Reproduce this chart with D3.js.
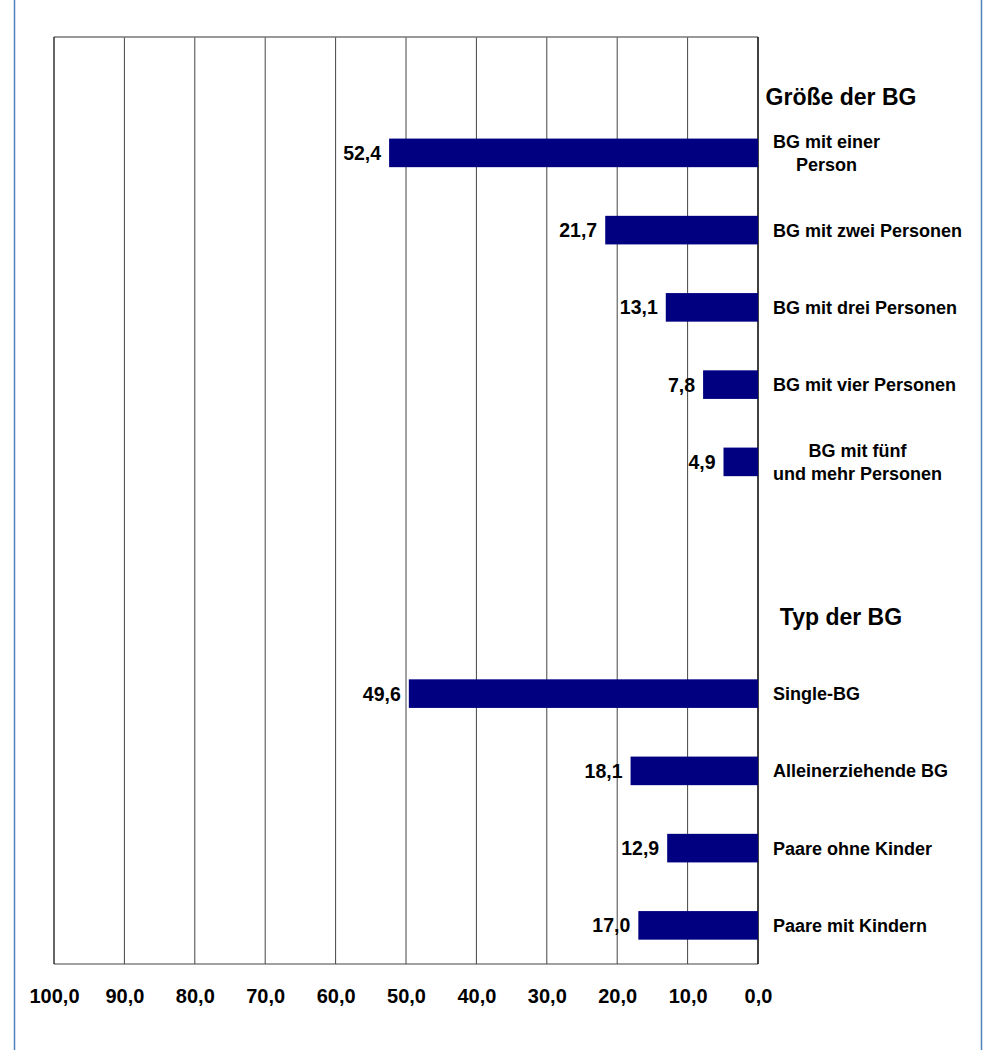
<!DOCTYPE html>
<html>
<head>
<meta charset="utf-8">
<script src="https://cdn.jsdelivr.net/npm/d3@7"></script>
<style>
  body { margin: 0; background: #fff; }
  svg { display: block; font-family: "Liberation Sans", Arial, sans-serif; font-weight: bold; }
</style>
</head>
<body>
<svg id="chart" width="984" height="1050"></svg>
<script>
// section headers
const groupTitles = ["Größe der BG", "Typ der BG"];

// Größe der BG (line breaks as in the original labels)
const sizeLabels = ["BG mit einer\nPerson", "BG mit zwei Personen", "BG mit drei Personen", "BG mit vier Personen", "BG mit fünf\nund mehr Personen"];
const sizeValues = [52.4, 21.7, 13.1, 7.8, 4.9];

// Typ der BG
const typeLabels = ["Single-BG", "Alleinerziehende BG", "Paare ohne Kinder", "Paare mit Kindern"];
const typeValues = [49.6, 18.1, 12.9, 17.0];

const tickValues = [100, 90, 80, 70, 60, 50, 40, 30, 20, 10, 0];

const width = 984, height = 1050;
const plot = { left: 54, right: 758, top: 37, bottom: 964 };

// build the row list: header, rows, spacer, header, rows
const rows = [];
rows.push({ key: "h0", header: groupTitles[0] });
sizeLabels.forEach((l, i) => rows.push({ key: "s" + i, label: l, value: sizeValues[i] }));
rows.push({ key: "gap" });
rows.push({ key: "h1", header: groupTitles[1] });
typeLabels.forEach((l, i) => rows.push({ key: "t" + i, label: l, value: typeValues[i] }));

const de = d3.formatLocale({ decimal: ",", thousands: ".", grouping: [3], currency: ["", " €"] });
const fmt = de.format(".1f");

const svg = d3.select("#chart");

// blue outer frame lines
svg.append("line").attr("x1", 14.5).attr("x2", 14.5).attr("y1", 0).attr("y2", height)
  .attr("stroke", "#4f81bd").attr("stroke-width", 1.5);
svg.append("line").attr("x1", 981.5).attr("x2", 981.5).attr("y1", 0).attr("y2", height)
  .attr("stroke", "#4f81bd").attr("stroke-width", 1.5);

const x = d3.scaleLinear().domain([100, 0]).range([plot.left, plot.right]);
const y = d3.scaleBand()
  .domain(rows.map(d => d.key))
  .range([plot.top, plot.bottom])
  .paddingInner(0.63)
  .paddingOuter(0.315);

// gridlines
svg.append("g")
  .selectAll("line")
  .data(tickValues.filter(t => t !== 0 && t !== 100))
  .enter()
  .append("line")
    .attr("x1", d => x(d)).attr("x2", d => x(d))
    .attr("y1", plot.top).attr("y2", plot.bottom)
    .attr("stroke", "#444").attr("stroke-width", 1);

// frame: top, bottom, left edge, zero line
svg.append("line").attr("x1", plot.left).attr("x2", plot.right)
  .attr("y1", plot.top).attr("y2", plot.top).attr("stroke", "#777").attr("stroke-width", 1.5);
svg.append("line").attr("x1", plot.left).attr("x2", plot.right)
  .attr("y1", plot.bottom).attr("y2", plot.bottom).attr("stroke", "#444").attr("stroke-width", 1.2);
svg.append("line").attr("x1", x(100)).attr("x2", x(100))
  .attr("y1", plot.top).attr("y2", plot.bottom).attr("stroke", "#000").attr("stroke-width", 1.2);
svg.append("line").attr("x1", x(0)).attr("x2", x(0))
  .attr("y1", plot.top).attr("y2", plot.bottom).attr("stroke", "#000").attr("stroke-width", 1.5);

// x axis labels
const xAxis = svg.append("g")
  .attr("transform", `translate(0,${plot.bottom})`)
  .call(d3.axisBottom(x).tickValues(tickValues).tickFormat(fmt).tickSize(0).tickPadding(25));
xAxis.select(".domain").remove();
xAxis.selectAll("text")
  .attr("font-size", 20)
  .attr("font-weight", "bold")
  .attr("font-family", "'Liberation Sans', Arial, sans-serif")
  .attr("fill", "#000");

const dataRows = rows.filter(d => d.value !== undefined);
const mid = d => y(d.key) + y.bandwidth() / 2;

// bars
svg.append("g")
  .selectAll("rect")
  .data(dataRows)
  .enter()
  .append("rect")
    .attr("x", d => x(d.value))
    .attr("y", d => y(d.key))
    .attr("width", d => x(0) - x(d.value))
    .attr("height", y.bandwidth())
    .attr("fill", "#000080");

// value labels
svg.append("g")
  .selectAll("text")
  .data(dataRows)
  .enter()
  .append("text")
    .attr("x", d => x(d.value) - 8)
    .attr("y", d => mid(d) + 7)
    .attr("text-anchor", "end")
    .attr("font-size", 19.5)
    .text(d => fmt(d.value));

// category labels (multi-line ones are centred within their own block)
const lineH = 23;
const catG = svg.append("g");
dataRows.forEach(d => {
  const lines = d.label.split("\n");
  const t = catG.append("text")
    .attr("font-size", 18)
    .attr("y", mid(d) + 6.5 - (lines.length - 1) * lineH / 2);
  lines.forEach((l, i) => {
    t.append("tspan").attr("x", 773).attr("dy", i === 0 ? 0 : lineH).text(l);
  });
  if (lines.length > 1) {
    const w = d3.max(t.selectAll("tspan").nodes(), n => n.getComputedTextLength());
    t.attr("text-anchor", "middle").selectAll("tspan").attr("x", 773 + w / 2);
  }
});

// section headers
svg.append("g")
  .selectAll("text")
  .data(rows.filter(d => d.header))
  .enter()
  .append("text")
    .attr("x", 841)
    .attr("y", (d, i) => mid(d) + 8.5 + (i === 0 ? 21 : 0))
    .attr("text-anchor", "middle")
    .attr("font-size", 23)
    .text(d => d.header);
</script>
</body>
</html>
